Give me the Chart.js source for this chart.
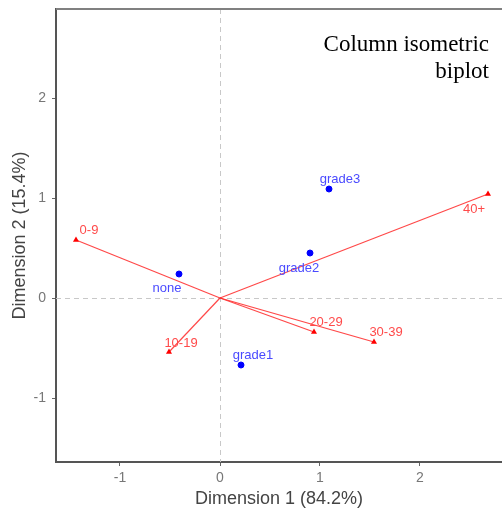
<!DOCTYPE html>
<html>
<head>
<meta charset="utf-8">
<script src="https://cdn.jsdelivr.net/npm/chart.js@4.4.1/dist/chart.umd.min.js"></script>
<style>
  html, body { margin: 0; padding: 0; background: #fff; overflow: hidden; }
  #wrap { width: 502px; height: 510px; position: relative; }
</style>
</head>
<body>
<div id="wrap"><canvas id="biplot"></canvas></div>
<script>
// row points (education level)
const rowNames = ['none', 'grade1', 'grade2', 'grade3'];
const rowX = [-0.41, 0.21, 0.90, 1.09];
const rowY = [0.24, -0.67, 0.45, 1.09];

// column points (age group), drawn as arrows from the origin
const colNames = ['0-9', '10-19', '20-29', '30-39', '40+'];
const colX = [-1.44, -0.51, 0.94, 1.54, 2.68];
const colY = [0.58, -0.54, -0.34, -0.44, 1.04];

const xTicks = [-1, 0, 1, 2];
const yTicks = [-1, 0, 1, 2];

// where each label sits relative to its marker (px)
const labelOffset = {
  'none': [-12, 14], 'grade1': [12, -10], 'grade2': [-11, 15], 'grade3': [11, -10],
  '0-9': [13, -10], '10-19': [12, -9], '20-29': [12, -10], '30-39': [12, -10], '40+': [-14, 15]
};

const sans = '"Liberation Sans", Arial, sans-serif';

const datasets = [{
  type: 'scatter',
  label: 'rows',
  data: rowNames.map((n, i) => ({ x: rowX[i], y: rowY[i], name: n })),
  backgroundColor: '#0000ff',
  borderColor: '#0000ff',
  pointRadius: 3,
  labelColor: '#4a4aff'
}];
colNames.forEach((n, i) => {
  datasets.push({
    type: 'line',
    label: n,
    data: [{ x: 0, y: 0 }, { x: colX[i], y: colY[i], name: n }],
    borderColor: 'rgba(255,40,40,0.85)',
    borderWidth: 1.2,
    backgroundColor: '#ff0000',
    pointStyle: 'triangle',
    pointRadius: [0, 3.5],
    pointBorderWidth: 0,
    labelColor: '#ff4a4a'
  });
});

// dashed zero lines, top frame, point labels and the caption
const decor = {
  id: 'decor',
  beforeDatasetsDraw(chart) {
    const { ctx, chartArea: a, scales: { x, y } } = chart;
    ctx.save();
    ctx.strokeStyle = '#c8c8c8';
    ctx.lineWidth = 1;
    ctx.setLineDash([5, 4]);
    const x0 = Math.round(x.getPixelForValue(0)) + 0.5;
    const y0 = Math.round(y.getPixelForValue(0)) + 0.5;
    ctx.beginPath();
    ctx.moveTo(x0, a.top); ctx.lineTo(x0, a.bottom);
    ctx.moveTo(a.left, y0); ctx.lineTo(a.right, y0);
    ctx.stroke();
    ctx.setLineDash([]);
    ctx.strokeStyle = '#808080';
    ctx.lineWidth = 2;
    ctx.beginPath();
    ctx.moveTo(a.left, a.top); ctx.lineTo(a.right, a.top);
    ctx.stroke();
    ctx.restore();
  },
  afterDatasetsDraw(chart) {
    const { ctx } = chart;
    ctx.save();
    ctx.font = '13px ' + sans;
    ctx.textAlign = 'center';
    ctx.textBaseline = 'middle';
    chart.data.datasets.forEach((ds, di) => {
      const meta = chart.getDatasetMeta(di);
      ds.data.forEach((pt, pi) => {
        if (!pt.name) return;
        const el = meta.data[pi];
        const off = labelOffset[pt.name];
        ctx.fillStyle = ds.labelColor;
        ctx.fillText(pt.name, el.x + off[0], el.y + off[1]);
      });
    });
    ctx.fillStyle = '#000';
    ctx.textAlign = 'right';
    ctx.font = '23px "Liberation Serif", "Times New Roman", serif';
    ctx.fillText('Column isometric', 489, 45);
    ctx.fillText('biplot', 489, 72);
    ctx.restore();
  }
};

const axisBase = {
  type: 'linear',
  grid: { drawOnChartArea: false, drawTicks: true, tickLength: 4, tickColor: '#666', tickWidth: 1 },
  border: { color: '#555', width: 2 },
  ticks: { color: '#777', font: { size: 14, family: sans } }
};

new Chart(document.getElementById('biplot'), {
  data: { datasets },
  options: {
    responsive: true,
    maintainAspectRatio: false,
    animation: false,
    layout: { autoPadding: false, padding: { top: 9, right: 0, left: 0, bottom: 0 } },
    plugins: { legend: { display: false }, tooltip: { enabled: false } },
    scales: {
      x: {
        ...axisBase,
        min: -1.64, max: 2.82,
        ticks: { ...axisBase.ticks, padding: 4 },
        afterBuildTicks: s => { s.ticks = xTicks.map(v => ({ value: v })); },
        afterFit: s => { s.height = 48; s.paddingLeft = 0; s.paddingRight = 0; },
        title: { display: true, text: 'Dimension 1 (84.2%)', color: '#444', padding: { top: 0, bottom: 0 },
                 font: { size: 18, family: sans } }
      },
      y: {
        ...axisBase,
        min: -1.64, max: 2.89,
        ticks: { ...axisBase.ticks, padding: 6 },
        afterBuildTicks: s => { s.ticks = yTicks.map(v => ({ value: v })); },
        afterFit: s => { s.width = 56; s.paddingTop = 0; s.paddingBottom = 0; },
        title: { display: true, text: 'Dimension 2 (15.4%)', color: '#444', padding: { top: 9, bottom: 0 },
                 font: { size: 18, family: sans } }
      }
    }
  },
  plugins: [decor]
});
</script>
</body>
</html>
